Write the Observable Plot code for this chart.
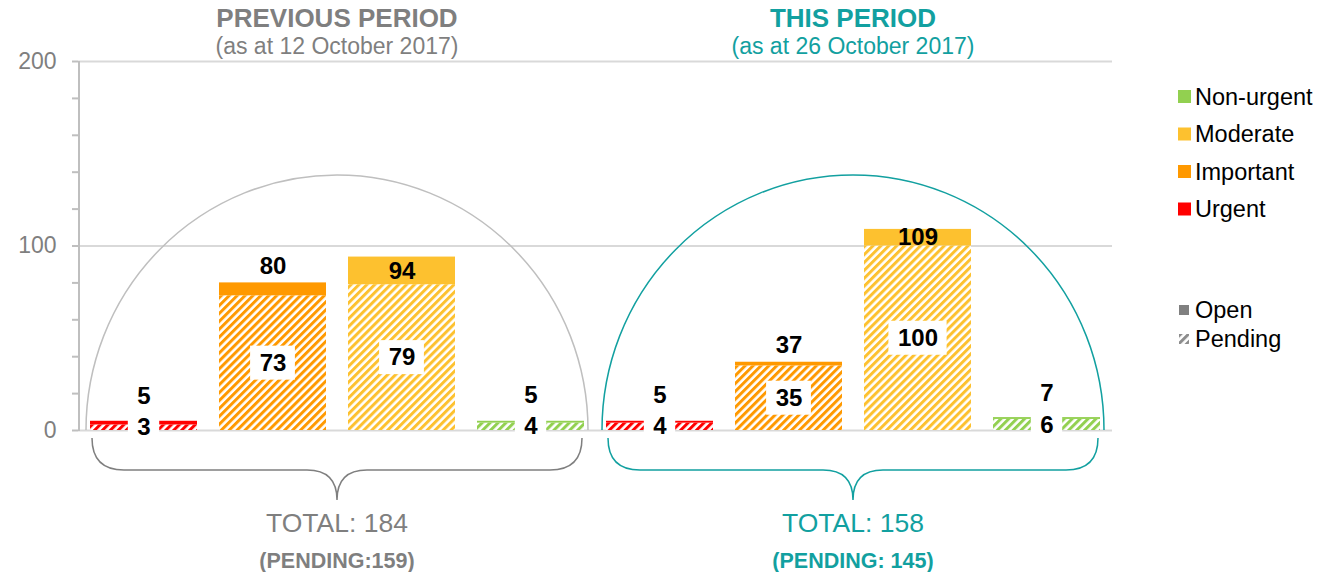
<!DOCTYPE html>
<html>
<head>
<meta charset="utf-8">
<script src="https://cdn.jsdelivr.net/npm/d3@7"></script>
<script src="https://cdn.jsdelivr.net/npm/@observablehq/plot@0.6"></script>
<style>
html, body { margin: 0; padding: 0; background: #fff; }
#chart svg { display: block; }
</style>
</head>
<body>
<div id="chart"></div>
<script>
// ---- data ----
const periods = ["PREVIOUS PERIOD", "THIS PERIOD"];
const periodDates = ["(as at 12 October 2017)", "(as at 26 October 2017)"];
const pendingFormats = [v => `(PENDING:${v})`, v => `(PENDING: ${v})`];
const categories = ["Urgent", "Important", "Moderate", "Non-urgent"];
const totalPrev = [5, 80, 94, 5];
const pendingPrev = [3, 73, 79, 4];
const totalThis = [5, 37, 109, 7];
const pendingThis = [4, 35, 100, 6];
const yTicks = [0, 100, 200];
const statusLabels = ["Open", "Pending"];

// ---- styles ----
const catColors = ["#FF0000", "#FF9900", "#FDC12F", "#92D050"];
const periodColors = ["#7F7F7F", "#12A0A0"];
const arcColors = ["#BFBFBF", "#12A0A0"];
const FONT = "'Liberation Sans', Arial, sans-serif";

const totals = [totalPrev, totalThis];
const pendings = [pendingPrev, pendingThis];
const rows = [];
periods.forEach((p, pi) => categories.forEach((c, ci) => rows.push({
  key: pi + "|" + c, period: pi, cat: ci, total: totals[pi][ci], pending: pendings[pi][ci]
})));
const keys = rows.map(r => r.key);

const totalLabelY = r => (r.total - r.pending) >= 8
  ? r.pending + (r.total - r.pending) / 2
  : Math.max(r.total + 9, r.pending / 2 + 17);

function defsMark() {
  const g = d3.create("svg:g");
  const defs = g.append("defs");
  const mk = (id, color) => {
    const p = defs.append("pattern").attr("id", id).attr("patternUnits", "userSpaceOnUse")
      .attr("width", 5.6).attr("height", 5.6).attr("patternTransform", "rotate(45)");
    p.append("rect").attr("width", 5.6).attr("height", 5.6).attr("fill", "#fff");
    p.append("rect").attr("width", 3).attr("height", 5.6).attr("fill", color);
  };
  catColors.forEach((c, i) => mk("hatch-" + i, c));
  mk("hatch-legend", "#8C8C8C");
  return g.node();
}

function pendingBoxes(index, scales) {
  const g = d3.create("svg:g");
  const bw = scales.x.bandwidth();
  for (const r of rows) {
    const cx = scales.x(r.key) + bw / 2, cy = scales.y(r.pending / 2);
    const w = String(r.pending).length * 13.4 + 18, h = 34;
    g.append("rect").attr("x", cx - w / 2).attr("y", cy - h / 2)
      .attr("width", w).attr("height", h).attr("fill", "#fff");
  }
  return g.node();
}

function decorations(index, scales, values, dims) {
  const {x, y} = scales;
  const bw = x.bandwidth();
  const g = d3.create("svg:g").attr("font-family", FONT);
  g.append("line").attr("x1", dims.marginLeft + 1).attr("x2", dims.marginLeft + 1)
    .attr("y1", y(200)).attr("y2", y(0) + 1).attr("stroke", "#BFBFBF").attr("stroke-width", 2);
  periods.forEach((p, pi) => {
    const gk = keys.filter((k, i) => rows[i].period === pi);
    const left = x(gk[0]), right = x(gk[gk.length - 1]) + bw;
    const cx = (left + right) / 2, y0 = y(0);
    const rx = (right - left) / 2 + 4, ry = rx + 4;
    g.append("path").attr("d", `M${cx - rx},${y0} A${rx},${ry} 0 0 1 ${cx + rx},${y0}`)
      .attr("fill", "none").attr("stroke", arcColors[pi]).attr("stroke-width", 1.5);
    const bl = left + 2, br = right - 2, yt = y0 + 8, yh = y0 + 40, yp = y0 + 70, r = 32;
    g.append("path").attr("d",
      `M${bl},${yt} Q${bl},${yh} ${bl + r},${yh} L${cx - 30},${yh} Q${cx},${yh} ${cx},${yp} ` +
      `Q${cx},${yh} ${cx + 30},${yh} L${br - r},${yh} Q${br},${yh} ${br},${yt}`)
      .attr("fill", "none").attr("stroke", pi === 0 ? "#7F7F7F" : arcColors[pi]).attr("stroke-width", 1.5);
    g.append("text").attr("x", cx).attr("y", dims.marginTop - 34).attr("text-anchor", "middle")
      .attr("font-size", 26).attr("font-weight", "bold").attr("fill", periodColors[pi]).text(p);
    g.append("text").attr("x", cx).attr("y", dims.marginTop - 7).attr("text-anchor", "middle")
      .attr("font-size", 23).attr("fill", periodColors[pi]).text(periodDates[pi]);
    g.append("text").attr("x", cx).attr("y", y0 + 102).attr("text-anchor", "middle")
      .attr("font-size", 26.5).attr("fill", periodColors[pi]).text("TOTAL: " + d3.sum(totals[pi]));
    g.append("text").attr("x", cx).attr("y", y0 + 138).attr("text-anchor", "middle")
      .attr("font-size", 21.5).attr("font-weight", "bold").attr("fill", periodColors[pi])
      .text(pendingFormats[pi](d3.sum(pendings[pi])));
  });
  // legend
  const lx = dims.width - dims.marginRight + 66;
  categories.slice().reverse().forEach((c, i) => {
    const ci = categories.length - 1 - i;
    const cy = 96.5 + i * 37.5;
    g.append("rect").attr("x", lx).attr("y", cy - 6.5).attr("width", 13).attr("height", 13).attr("fill", catColors[ci]);
    g.append("text").attr("x", lx + 17).attr("y", cy).attr("dy", "0.36em").attr("text-anchor", "start")
      .attr("font-size", 23.5).attr("fill", "#000").text(c);
  });
  [["#808080", 310], ["url(#hatch-legend)", 339]].forEach(([fill, cy], i) => {
    g.append("rect").attr("x", lx + 1).attr("y", cy - 5).attr("width", 10).attr("height", 10).attr("fill", fill);
    g.append("text").attr("x", lx + 17).attr("y", cy).attr("dy", "0.36em").attr("text-anchor", "start")
      .attr("font-size", 23.5).attr("fill", "#000").text(statusLabels[i]);
  });
  return g.node();
}

const chart = Plot.plot({
  width: 1331, height: 572,
  marginTop: 61, marginBottom: 142, marginLeft: 78, marginRight: 219,
  style: {fontFamily: FONT, background: "#fff", overflow: "visible"},
  x: {domain: keys, paddingInner: 0.17, paddingOuter: 0.085, axis: null},
  y: {domain: [0, 200], axis: null},
  marks: [
    defsMark,
    Plot.ruleY([100, 200], {stroke: "#D9D9D9", strokeWidth: 2}),
    Plot.ruleY([0], {stroke: "#D9D9D9", strokeWidth: 2}),
    Plot.axisY({ticks: d3.range(0, 201, 20), tickFormat: d => yTicks.includes(d) ? String(d) : "",
      tickSize: 6, tickPadding: 16, fontSize: 23, stroke: "#BFBFBF", strokeWidth: 2, fill: "#7F7F7F", label: null}),
    decorations,
    ...categories.map((c, ci) => Plot.barY(rows.filter(r => r.cat === ci),
      {x: "key", y1: 0, y2: "pending", fill: `url(#hatch-${ci})`})),
    ...categories.map((c, ci) => Plot.barY(rows.filter(r => r.cat === ci),
      {x: "key", y1: "pending", y2: "total", fill: catColors[ci]})),
    pendingBoxes,
    Plot.text(rows, {x: "key", y: r => r.pending / 2, text: r => String(r.pending),
      fontSize: 24, fontWeight: "bold", fill: "#000"}),
    Plot.text(rows, {x: "key", y: totalLabelY, text: r => String(r.total),
      fontSize: 24, fontWeight: "bold", fill: "#000"})
  ]
});
document.getElementById("chart").appendChild(chart);
</script>
</body>
</html>
